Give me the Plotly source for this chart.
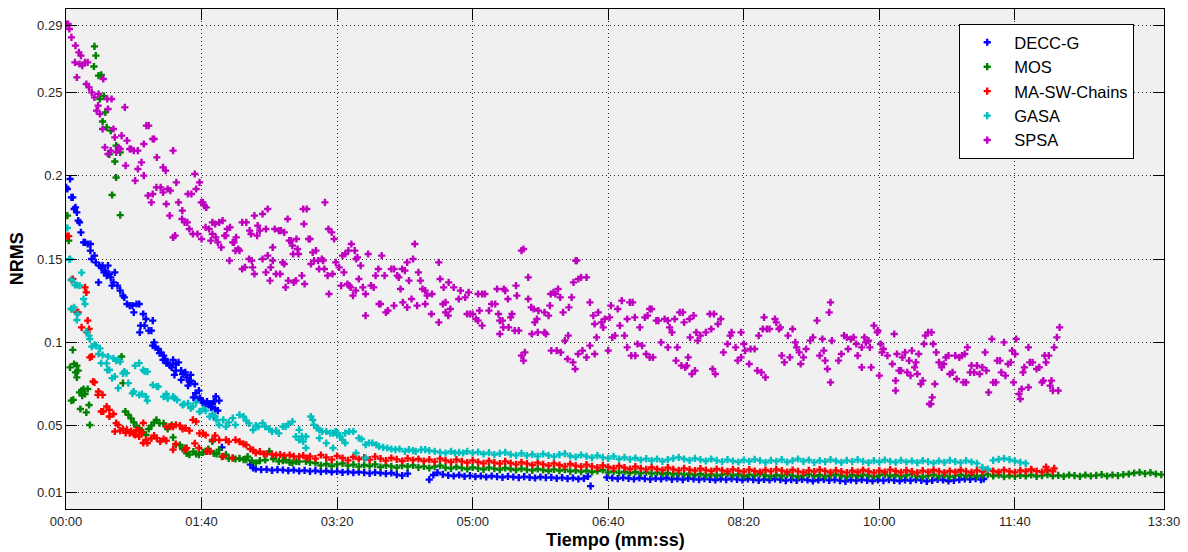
import plotly.graph_objects as go

# ---------------------------------------------------------------------------
# NRMS vs. elapsed time (seconds) for five optimisers.
# Irregular early samples are (t, value) pairs; the long converged tails are
# logged every SAMPLE_STEP seconds starting at the given time.
# ---------------------------------------------------------------------------
SAMPLE_STEP = 4

series_names = ["DECC-G", "MOS", "MA-SW-Chains", "GASA", "SPSA"]
series_colors = ["#0000ff", "#008000", "#ff0000", "#00bfbf", "#bf00bf"]

x_tick_seconds = [0, 100, 200, 300, 400, 500, 600, 700, 810]
x_tick_labels = ["00:00", "01:40", "03:20", "05:00", "06:40", "08:20", "10:00", "11:40", "13:30"]
y_tick_values = [0.01, 0.05, 0.1, 0.15, 0.2, 0.25, 0.29]
y_tick_labels = ["0.01", "0.05", "0.1", "0.15", "0.2", "0.25", "0.29"]

# ---- DECC-G ---------------------------------------------------------------
decc_points = [
    (0, 0.193), (1, 0.192), (3, 0.198), (4, 0.187), (5, 0.187), (6, 0.180), (7, 0.181),
    (8, 0.178), (9, 0.173), (10, 0.172), (11, 0.166), (13, 0.160), (14, 0.160), (16, 0.159),
    (18, 0.159), (18, 0.155), (19, 0.150), (21, 0.152), (22, 0.148), (24, 0.136), (24.5, 0.146),
    (26, 0.145), (27, 0.146), (28, 0.142), (29, 0.143), (30, 0.140), (31, 0.146), (32, 0.141),
    (33, 0.139), (34, 0.134), (35, 0.136), (36, 0.142), (38, 0.134), (40, 0.131), (42, 0.128),
    (43, 0.127), (45, 0.123), (47, 0.122), (49, 0.122), (50, 0.118), (52, 0.123), (54, 0.123),
    (54.4, 0.106), (55, 0.110), (57, 0.117), (58, 0.110), (59, 0.114), (61, 0.107), (63, 0.107),
    (64, 0.113), (64, 0.098), (65, 0.100), (66, 0.097), (68, 0.096), (69, 0.0935), (70, 0.094),
    (71.6, 0.0895), (72, 0.092), (73, 0.090), (74, 0.0875), (75, 0.088), (77, 0.086),
    (78, 0.085), (79, 0.0895), (80, 0.0805), (81, 0.087), (81, 0.083), (83, 0.088), (85, 0.083),
    (85, 0.0775), (86, 0.081), (88, 0.082), (89, 0.079), (90, 0.074), (91, 0.0765), (92, 0.0805),
    (92, 0.077), (94, 0.067), (95, 0.075), (95.6, 0.0695), (97, 0.066), (98, 0.071), (99, 0.0665),
    (100, 0.065), (101, 0.064), (103, 0.063), (104, 0.0645), (105, 0.063), (106, 0.063),
    (107, 0.061), (108, 0.063), (109, 0.0645), (109, 0.0555), (110, 0.060), (110.5, 0.0675),
    (112, 0.059), (113, 0.065), (115, 0.037),
    (136, 0.0266), (138, 0.0246), (140, 0.0240),
    (268, 0.0176), (271, 0.0204), (274, 0.0218),
    (385, 0.0196), (387, 0.0137), (677, 0.0180),
]
decc_tail_a_start = 144
decc_tail_a = [
    0.0236, 0.0238, 0.0232, 0.0236, 0.0234, 0.0230, 0.0234, 0.0228, 0.0232, 0.0226,
    0.0230, 0.0224, 0.0228, 0.0222, 0.0226, 0.0220, 0.0224, 0.0218, 0.0222, 0.0218,
    0.0214, 0.0220, 0.0216, 0.0212, 0.0216, 0.0206, 0.0200, 0.0212,
]
decc_tail_b_start = 278
decc_tail_b = [
    0.0208, 0.0202, 0.0198, 0.0204, 0.0196, 0.0200, 0.0194, 0.0198, 0.0192, 0.0198,
    0.0194, 0.0190, 0.0196, 0.0192, 0.0188, 0.0194, 0.0190, 0.0186, 0.0192, 0.0188,
    0.0190, 0.0184, 0.0188, 0.0182, 0.0186, 0.0180, 0.0184,
]
decc_tail_c_start = 399
decc_tail_c = [
    0.0190, 0.0186, 0.0182, 0.0188, 0.0184, 0.0180, 0.0186, 0.0182, 0.0178, 0.0184,
    0.0180, 0.0186, 0.0178, 0.0182, 0.0176, 0.0184, 0.0180, 0.0176, 0.0182, 0.0178,
    0.0174, 0.0180, 0.0176, 0.0182, 0.0178, 0.0174, 0.0180, 0.0176, 0.0172, 0.0178,
    0.0174, 0.0180, 0.0176, 0.0170, 0.0176, 0.0172, 0.0178, 0.0174, 0.0168, 0.0174,
    0.0178, 0.0172, 0.0176, 0.0170, 0.0166, 0.0174, 0.0170, 0.0176, 0.0172, 0.0168,
    0.0174, 0.0170, 0.0176, 0.0172, 0.0168, 0.0174, 0.0170, 0.0176, 0.0172, 0.0166,
    0.0172, 0.0178, 0.0174, 0.0168, 0.0172, 0.0176, 0.0180, 0.0178, 0.0182, 0.0176,
]

# ---- MOS ------------------------------------------------------------------
mos_points = [
    (1, 0.176), (2, 0.161), (3, 0.085), (4, 0.120), (4, 0.065), (5, 0.0955), (5.4, 0.0655),
    (6, 0.087), (7, 0.082), (8, 0.086), (8, 0.079), (9, 0.083), (10, 0.070), (10.6, 0.060),
    (11.5, 0.071), (12, 0.068), (13, 0.072), (14, 0.069), (15, 0.058), (16, 0.072),
    (17, 0.0624), (17.6, 0.0504), (20.6, 0.2655), (21, 0.2776), (22, 0.272), (24, 0.260),
    (25, 0.246), (26, 0.2605), (27, 0.2325), (28, 0.2477), (29, 0.238), (30, 0.229),
    (32, 0.2128), (33, 0.227), (34, 0.1884), (36, 0.2085), (37, 0.218), (37, 0.1989),
    (40, 0.214), (40, 0.1763), (41, 0.0915), (42, 0.0755), (43.8, 0.0585), (46, 0.0565),
    (48, 0.0544), (50, 0.0520), (52, 0.0494), (54, 0.0485), (55, 0.047), (57, 0.046),
    (59, 0.0444), (61, 0.048), (63, 0.050), (65, 0.052), (66.7, 0.0535), (69, 0.0515),
    (72, 0.0514), (75, 0.048), (78, 0.0504), (79, 0.043), (81, 0.0386), (84, 0.0384),
    (86, 0.036), (88, 0.0366), (89, 0.0334), (91, 0.0326), (94, 0.0344), (96, 0.033),
    (98, 0.0326), (101, 0.034), (103, 0.0346), (105, 0.036), (108, 0.0406), (109, 0.0334),
    (111, 0.033), (113, 0.0356), (115, 0.0314), (118, 0.0326), (120, 0.0304), (123, 0.0306),
    (125, 0.0300), (128, 0.0304), (131, 0.0296), (133, 0.0296), (134, 0.0314), (137, 0.0290),
    (140, 0.0276), (143, 0.0290), (147, 0.0294), (150, 0.0346), (153, 0.0300), (157, 0.0286),
    (160, 0.0290), (162, 0.0294), (165, 0.0280), (167, 0.0276), (170, 0.0286), (172, 0.0284),
    (177, 0.0286), (180, 0.0280),
]
mos_tail_start = 184
mos_tail = [
    0.0276, 0.0262, 0.0270, 0.0258, 0.0268, 0.0274, 0.0260, 0.0266, 0.0254, 0.0264,
    0.0258, 0.0268, 0.0252, 0.0262, 0.0256, 0.0248, 0.0260, 0.0254, 0.0262, 0.0250,
    0.0256, 0.0246, 0.0254, 0.0260, 0.0248, 0.0244, 0.0252, 0.0246, 0.0240, 0.0250,
    0.0244, 0.0238, 0.0248, 0.0242, 0.0236, 0.0246, 0.0240, 0.0234, 0.0242, 0.0236,
    0.0232, 0.0240, 0.0234, 0.0228, 0.0238, 0.0230, 0.0236, 0.0226, 0.0232, 0.0224,
    0.0230, 0.0222, 0.0228, 0.0234, 0.0220, 0.0226, 0.0218, 0.0224, 0.0216, 0.0222,
    0.0214, 0.0220, 0.0212, 0.0218, 0.0210, 0.0216, 0.0208, 0.0214, 0.0206, 0.0212,
    0.0204, 0.0210, 0.0202, 0.0208, 0.0200, 0.0206, 0.0212, 0.0202, 0.0208, 0.0198,
    0.0206, 0.0200, 0.0210, 0.0202, 0.0196, 0.0204, 0.0198, 0.0208, 0.0200, 0.0194,
    0.0202, 0.0208, 0.0198, 0.0204, 0.0196, 0.0202, 0.0208, 0.0200, 0.0194, 0.0204,
    0.0198, 0.0206, 0.0200, 0.0194, 0.0202, 0.0208, 0.0198, 0.0204, 0.0196, 0.0202,
    0.0208, 0.0198, 0.0192, 0.0200, 0.0206, 0.0196, 0.0202, 0.0194, 0.0200, 0.0206,
    0.0198, 0.0204, 0.0196, 0.0202, 0.0208, 0.0198, 0.0204, 0.0194, 0.0200, 0.0196,
    0.0202, 0.0198, 0.0204, 0.0196, 0.0200, 0.0206, 0.0198, 0.0202, 0.0196, 0.0204,
    0.0200, 0.0196, 0.0204, 0.0198, 0.0202, 0.0206, 0.0198, 0.0204, 0.0200, 0.0206,
    0.0210, 0.0216, 0.0220, 0.0212, 0.0218, 0.0210, 0.0206,
]

# ---- MA-SW-Chains -----------------------------------------------------------
masw_points = [
    (1, 0.1637), (2, 0.1637), (4, 0.1374), (5, 0.138), (8, 0.118), (9, 0.118), (11.5, 0.109),
    (14, 0.133), (15, 0.130), (15.6, 0.106), (16, 0.113), (17, 0.108), (17.6, 0.091),
    (19, 0.0915), (20, 0.0765), (21, 0.076), (23.6, 0.0685), (24, 0.0705), (26, 0.0585),
    (27, 0.0685), (27.5, 0.0585), (30, 0.0615), (32, 0.0555), (32, 0.0595), (35, 0.057),
    (36, 0.0465), (37, 0.0515), (38.5, 0.0505), (40, 0.047), (42, 0.048), (44, 0.0457),
    (45, 0.0475), (47, 0.0455), (48, 0.0467), (50, 0.045), (51, 0.0445), (52, 0.0475),
    (54, 0.047), (54, 0.0435), (56, 0.046), (57, 0.0516), (57, 0.0396), (59, 0.0415),
    (60, 0.0396), (63, 0.0424), (65, 0.044), (67, 0.0425), (69.5, 0.0405), (72, 0.042),
    (74, 0.0494), (74, 0.041), (76.5, 0.0495), (79, 0.0494), (79, 0.0356), (81, 0.0505),
    (81, 0.039), (84, 0.050), (86, 0.048), (88, 0.0485), (88, 0.0356), (89, 0.0365),
    (91, 0.047), (93.6, 0.0535), (95, 0.0394), (96, 0.0525), (98, 0.0366), (98.5, 0.0454),
    (101, 0.0454), (103, 0.0444), (104, 0.0346), (106, 0.0346), (108, 0.0414), (110, 0.044),
    (113, 0.0414), (116, 0.0316), (118, 0.0415), (120, 0.0404), (123, 0.0306), (125, 0.0415),
    (128, 0.0404), (131, 0.0390), (133, 0.0385), (136, 0.036), (138, 0.0354), (140, 0.0336),
    (143, 0.0344), (146, 0.0330), (148, 0.0330), (152, 0.0328), (155, 0.0324), (158, 0.0326),
    (161, 0.0320), (165, 0.0324), (168, 0.0316), (172, 0.0314), (175, 0.0320), (178, 0.0306),
    (712, 0.0236), (723, 0.0252), (729, 0.0244),
]
masw_tail_start = 180
masw_tail = [
    0.0316, 0.0302, 0.0324, 0.0310, 0.0296, 0.0318, 0.0306, 0.0292, 0.0312, 0.0300,
    0.0308, 0.0296, 0.0314, 0.0302, 0.0290, 0.0306, 0.0298, 0.0288, 0.0304, 0.0294,
    0.0300, 0.0288, 0.0296, 0.0284, 0.0302, 0.0292, 0.0282, 0.0296, 0.0286, 0.0278,
    0.0292, 0.0282, 0.0274, 0.0288, 0.0278, 0.0272, 0.0286, 0.0276, 0.0268, 0.0280,
    0.0272, 0.0264, 0.0278, 0.0268, 0.0260, 0.0274, 0.0264, 0.0256, 0.0270, 0.0260,
    0.0254, 0.0266, 0.0256, 0.0248, 0.0262, 0.0252, 0.0244, 0.0258, 0.0248, 0.0240,
    0.0254, 0.0244, 0.0238, 0.0250, 0.0240, 0.0234, 0.0248, 0.0238, 0.0232, 0.0244,
    0.0236, 0.0230, 0.0242, 0.0234, 0.0228, 0.0240, 0.0232, 0.0226, 0.0238, 0.0230,
    0.0224, 0.0236, 0.0228, 0.0222, 0.0234, 0.0226, 0.0238, 0.0230, 0.0222, 0.0234,
    0.0226, 0.0220, 0.0232, 0.0224, 0.0236, 0.0228, 0.0220, 0.0232, 0.0224, 0.0218,
    0.0230, 0.0222, 0.0234, 0.0226, 0.0218, 0.0230, 0.0222, 0.0236, 0.0228, 0.0220,
    0.0232, 0.0224, 0.0218, 0.0230, 0.0222, 0.0234, 0.0226, 0.0218, 0.0228, 0.0222,
    0.0234, 0.0226, 0.0220, 0.0232, 0.0224, 0.0236, 0.0228, 0.0222, 0.0234, 0.0226,
    0.0220, 0.0232, 0.0226, 0.0238, 0.0228, 0.0222, 0.0234, 0.0226,
]

# ---- GASA -------------------------------------------------------------------
gasa_points = [
    (1, 0.1687), (2.5, 0.1497), (3, 0.150), (4, 0.1374), (4, 0.120), (6, 0.121), (6.6, 0.1344),
    (8, 0.1344), (8, 0.1134), (8.5, 0.117), (10, 0.134), (11.5, 0.1418), (13, 0.126),
    (14, 0.123), (15, 0.1064), (17, 0.104), (17.5, 0.102), (19, 0.0974), (21, 0.0985),
    (22, 0.098), (24, 0.093), (25, 0.0964), (26, 0.0875), (27, 0.0924), (30, 0.0874),
    (30.5, 0.0835), (31, 0.0915), (32, 0.0834), (34, 0.0785), (35, 0.0904), (36, 0.0794),
    (37, 0.089), (38, 0.0894), (38.5, 0.0725), (40, 0.0884), (42, 0.0814), (43, 0.0824),
    (44.6, 0.0815), (46, 0.0755), (49, 0.0694), (50, 0.0705), (51, 0.086), (54, 0.0875),
    (54, 0.0684), (56, 0.069), (57, 0.0834), (58, 0.0825), (59, 0.0674), (60, 0.0824),
    (60, 0.065), (64, 0.0744), (67, 0.0735), (68, 0.0734), (72, 0.0674), (74, 0.069),
    (75, 0.0664), (79, 0.0674), (80, 0.0665), (82, 0.0654), (86, 0.0624), (87, 0.063),
    (90, 0.0634), (92, 0.0605), (93.6, 0.0614), (96, 0.0640), (98.5, 0.0584), (101, 0.0600),
    (103, 0.059), (106, 0.0554), (108, 0.0570), (110, 0.0555), (111, 0.0534), (113, 0.0504),
    (116, 0.0535), (118, 0.0494), (120, 0.0520), (123, 0.0545), (125, 0.0505), (128, 0.0565),
    (131, 0.0554), (133, 0.0530), (135, 0.0514), (138, 0.0474), (140, 0.0500), (142, 0.0494),
    (145, 0.0515), (147, 0.0494), (150, 0.0480), (152, 0.0464), (155, 0.0470), (157, 0.0454),
    (160, 0.0495), (162, 0.0494), (164, 0.0510), (167, 0.0524), (169.6, 0.0434), (172, 0.0475),
    (172, 0.0415), (174, 0.0436), (175, 0.0405), (177, 0.0435), (177, 0.0366), (180.6, 0.0555),
    (182, 0.0535), (183, 0.0505), (185, 0.0485), (187, 0.0475), (187, 0.0425), (189, 0.0465),
    (192, 0.0465), (192, 0.0395), (195, 0.0455), (197, 0.0455), (197, 0.0366), (199, 0.0465),
    (200, 0.0445), (202, 0.0440), (204, 0.0415), (206, 0.0396), (206, 0.0455), (209, 0.0465),
    (212, 0.0465), (214, 0.0336), (216, 0.0425), (218, 0.0420), (221, 0.0386), (221, 0.0306),
    (223.5, 0.0396), (226, 0.0396), (229, 0.0385), (231, 0.0376), (234, 0.0370), (237, 0.0366),
    (240, 0.0360), (243, 0.0356), (246, 0.0360), (250, 0.0346), (253, 0.0356), (256, 0.0350),
    (258, 0.0346), (262, 0.0356), (265, 0.0356), (268, 0.0350), (272, 0.0346), (276, 0.0340),
    (280, 0.0336), (284, 0.0346), (287, 0.0336), (290, 0.0340), (293, 0.0336),
]
gasa_tail_start = 296
gasa_tail = [
    0.0346, 0.0336, 0.0342, 0.0330, 0.0338, 0.0326, 0.0334, 0.0340, 0.0328, 0.0322,
    0.0334, 0.0320, 0.0328, 0.0316, 0.0330, 0.0322, 0.0314, 0.0326, 0.0332, 0.0318,
    0.0312, 0.0324, 0.0316, 0.0308, 0.0320, 0.0310, 0.0304, 0.0316, 0.0300, 0.0310,
    0.0298, 0.0306, 0.0294, 0.0302, 0.0290, 0.0300, 0.0286, 0.0296, 0.0304, 0.0310,
    0.0300, 0.0292, 0.0304, 0.0296, 0.0288, 0.0300, 0.0292, 0.0284, 0.0296, 0.0288,
    0.0282, 0.0294, 0.0286, 0.0298, 0.0290, 0.0280, 0.0292, 0.0286, 0.0296, 0.0282,
    0.0290, 0.0300, 0.0286, 0.0294, 0.0280, 0.0290, 0.0284, 0.0296, 0.0288, 0.0280,
    0.0292, 0.0284, 0.0296, 0.0286, 0.0278, 0.0290, 0.0282, 0.0294, 0.0286, 0.0280,
    0.0292, 0.0282, 0.0288, 0.0278, 0.0290, 0.0284, 0.0276, 0.0288, 0.0280, 0.0292,
    0.0284, 0.0278, 0.0290, 0.0282, 0.0274, 0.0250, 0.0240, 0.0292, 0.0298, 0.0304,
    0.0296, 0.0288, 0.0280, 0.0274,
]

# ---- SPSA -------------------------------------------------------------------
spsa_points = [
    (0, 0.291), (1.5, 0.291), (2.5, 0.288), (4, 0.283), (6.6, 0.268), (7, 0.278), (8, 0.259),
    (9.5, 0.274), (10, 0.267), (11, 0.272), (12, 0.266), (14, 0.268), (15, 0.255), (16, 0.268),
    (17, 0.253), (19, 0.250), (21, 0.247), (22.6, 0.239), (23.7, 0.242), (24, 0.249),
    (25, 0.237), (27, 0.228), (27.5, 0.258), (28.7, 0.217), (30.4, 0.246), (31, 0.240),
    (31, 0.213), (33, 0.215), (33.6, 0.246), (35, 0.228), (36, 0.223), (37, 0.214),
    (38.5, 0.217), (40, 0.216), (41, 0.224), (43.4, 0.241), (44, 0.206), (45, 0.221),
    (47, 0.216), (48, 0.216), (50, 0.215), (51, 0.197), (53, 0.215), (53, 0.204),
    (55.7, 0.208), (57.4, 0.219), (57.4, 0.200), (59.3, 0.230), (60.5, 0.188), (61, 0.230),
    (63, 0.184), (64, 0.222), (64, 0.189), (65, 0.222), (66.7, 0.193), (67, 0.211),
    (69.8, 0.193), (71.6, 0.205), (71.6, 0.190), (73.5, 0.203), (74, 0.183), (75, 0.192),
    (76.5, 0.176), (77, 0.191), (79, 0.215), (79, 0.163), (80.5, 0.164), (81.4, 0.196),
    (83, 0.184), (85.6, 0.174), (85.8, 0.179), (87.5, 0.172), (89.5, 0.172), (90, 0.189),
    (91, 0.168), (92.5, 0.189), (93.6, 0.165), (95, 0.201), (96, 0.192), (97, 0.165),
    (98.5, 0.196), (99.8, 0.184), (100, 0.162),
    (101, 0.184), (102, 0.182), (103, 0.169), (103.5, 0.181), (105.5, 0.168), (106.8, 0.161),
    (108, 0.172), (108, 0.165), (110, 0.171), (110.5, 0.163), (112, 0.160), (113, 0.172),
    (114.5, 0.157), (115.5, 0.173), (117, 0.164), (118, 0.164), (119, 0.168), (120.6, 0.149),
    (121, 0.169), (123, 0.160), (124, 0.160), (125.5, 0.163), (125, 0.155), (127, 0.156),
    (128, 0.155), (130, 0.172), (130, 0.144), (132, 0.145), (133, 0.172), (135, 0.150),
    (135.5, 0.167), (136.5, 0.165), (137, 0.149), (137.7, 0.145), (139, 0.176), (139, 0.141),
    (141, 0.164), (141.4, 0.170), (143, 0.167), (145, 0.177), (145, 0.150), (147.5, 0.168),
    (147.5, 0.142), (148.8, 0.180), (148.8, 0.152), (150.5, 0.137), (151, 0.145),
    (152.5, 0.157), (152.5, 0.149), (154, 0.168), (155, 0.141), (157, 0.167), (158.6, 0.167),
    (158, 0.141), (159.8, 0.148), (161, 0.166), (161, 0.147), (162, 0.133), (163.5, 0.174),
    (164, 0.137), (164.7, 0.161), (166, 0.161), (167, 0.158), (167.6, 0.153), (168, 0.136),
    (169.6, 0.137), (170, 0.162), (170.8, 0.156), (171.5, 0.153), (174, 0.140), (175, 0.180),
    (175.5, 0.171), (176, 0.135), (177.6, 0.180), (179, 0.162), (180, 0.162), (180.7, 0.147),
    (182, 0.154), (183, 0.149), (184.4, 0.155), (186, 0.149), (186.7, 0.144), (188.7, 0.150),
    (189.7, 0.149), (190.6, 0.144), (191, 0.184), (193, 0.140), (193.6, 0.168), (194, 0.129),
    (196, 0.166), (196.6, 0.141), (197.8, 0.162), (199, 0.148),
    (201.5, 0.145), (203, 0.134), (204, 0.152), (205, 0.142), (206, 0.153), (207.6, 0.135),
    (208.3, 0.155), (209, 0.134), (210, 0.133), (210.5, 0.159), (211.7, 0.128), (213, 0.155),
    (213.7, 0.131), (214, 0.150), (215, 0.151), (216, 0.138), (217.4, 0.146), (219, 0.133),
    (221, 0.116), (221, 0.129), (222.9, 0.153), (225, 0.134), (227, 0.133), (228.4, 0.140),
    (230.4, 0.144), (231, 0.123), (232, 0.123), (232.9, 0.152), (235, 0.140), (236, 0.118),
    (237.5, 0.119), (240, 0.144), (242, 0.122), (242, 0.144), (244.4, 0.140), (245.5, 0.139),
    (246.8, 0.132), (248, 0.144), (248.5, 0.124), (250, 0.143), (251.7, 0.121), (251.7, 0.148),
    (253, 0.137), (254.9, 0.126), (256, 0.150), (257.3, 0.159), (259, 0.122), (260, 0.142),
    (261.5, 0.137), (263, 0.132), (265, 0.123), (265, 0.131), (266.4, 0.128), (269.6, 0.117),
    (270, 0.129), (275, 0.148), (275, 0.112), (276, 0.138), (278, 0.123), (278.6, 0.133),
    (280, 0.118), (280, 0.124), (282, 0.116), (282.3, 0.136), (283.5, 0.120), (286, 0.133),
    (289.7, 0.126), (291, 0.131), (294.5, 0.127), (295.9, 0.117), (297, 0.130), (298, 0.117),
    (300, 0.117), (302.4, 0.114), (304, 0.129), (304, 0.113), (305, 0.119), (307, 0.129),
    (307, 0.110), (309, 0.129), (312, 0.119), (314, 0.123), (316.6, 0.123), (318, 0.132),
    (319, 0.117), (320, 0.113), (320, 0.105), (322, 0.113), (322.6, 0.109), (323, 0.132),
    (324, 0.131), (326, 0.126), (326.5, 0.109), (328, 0.115), (329, 0.117), (331, 0.107),
    (332, 0.134), (332.6, 0.128), (334, 0.107), (336, 0.155), (336, 0.092), (337.5, 0.156),
    (337.5, 0.089), (338.5, 0.094), (341, 0.139), (341, 0.126), (343.2, 0.121), (343.7, 0.105),
    (345, 0.120), (345.8, 0.112), (347.4, 0.114), (348, 0.106), (348.5, 0.119), (353, 0.118),
    (353, 0.106), (354, 0.105), (356, 0.116), (357, 0.122), (357.6, 0.129), (358, 0.095),
    (359.6, 0.130), (361, 0.129), (362, 0.095), (363, 0.132), (364.6, 0.127), (365, 0.094),
    (366.7, 0.118), (368, 0.101), (370, 0.090), (370.5, 0.104), (371, 0.121), (373, 0.127),
    (374, 0.088), (374.4, 0.136), (375.6, 0.084), (376, 0.149), (376.8, 0.149), (377.8, 0.093),
    (378, 0.138), (380, 0.139), (381, 0.095), (384, 0.139), (384, 0.091), (386.5, 0.124),
    (386.5, 0.098), (389, 0.116), (390, 0.111), (390, 0.093), (391.4, 0.103), (392.6, 0.118),
    (395, 0.112), (396.3, 0.109), (397.5, 0.114),
    (400, 0.095), (401, 0.115), (402, 0.122), (403, 0.103), (405, 0.104), (407, 0.120),
    (408.6, 0.110), (410, 0.125), (412, 0.104), (414, 0.114), (414, 0.097), (415.9, 0.124),
    (417, 0.092), (418, 0.124), (419.6, 0.115), (420, 0.092), (421.6, 0.099), (423.3, 0.109),
    (425, 0.098), (427, 0.115), (428, 0.093), (429, 0.116), (430.6, 0.120), (430.6, 0.091),
    (432, 0.120), (433, 0.091), (435.5, 0.113), (437, 0.113), (439, 0.100), (441.6, 0.114),
    (444, 0.097), (444, 0.113), (445.3, 0.109), (447, 0.106), (449, 0.114), (450, 0.089),
    (451, 0.097), (452.7, 0.118), (454, 0.086), (455, 0.118), (456, 0.112), (456.8, 0.085),
    (458, 0.086), (459, 0.091), (460, 0.114), (460.4, 0.103), (461.7, 0.081), (463, 0.116),
    (464, 0.083), (465, 0.106), (466, 0.101), (468, 0.104), (472, 0.106), (475, 0.117),
    (476, 0.108), (477, 0.084), (478, 0.117), (479, 0.081), (481, 0.111), (483, 0.114),
    (485, 0.094), (488, 0.099), (490, 0.104), (491, 0.106), (494, 0.097), (495.5, 0.089),
    (498, 0.106), (498, 0.091), (500, 0.099),
    (501, 0.095), (504, 0.087), (505, 0.096), (508, 0.096), (510, 0.083), (511, 0.104),
    (513, 0.082), (514, 0.108), (515, 0.115), (516, 0.079), (517, 0.108), (519, 0.108),
    (523, 0.114), (524, 0.112), (526, 0.108), (527, 0.109), (528, 0.092), (530, 0.088),
    (532.6, 0.104), (534, 0.091), (536, 0.108), (538, 0.100), (539, 0.097), (540.9, 0.094),
    (542, 0.087), (544, 0.091), (546, 0.096), (549, 0.101), (551, 0.103), (554, 0.113),
    (556, 0.092), (558, 0.102), (559, 0.095), (560, 0.089), (561.7, 0.084), (563, 0.118),
    (564, 0.124), (564, 0.076), (565, 0.101), (569.9, 0.089), (572, 0.093), (574, 0.104),
    (576, 0.103), (577, 0.096), (579, 0.102), (581, 0.103), (583, 0.099), (584, 0.092),
    (587, 0.097), (587, 0.085), (589, 0.103), (590, 0.100), (592, 0.101), (593, 0.097),
    (594, 0.085), (596, 0.110), (598.5, 0.106), (599, 0.107),
    (600, 0.080), (601, 0.099), (602, 0.094), (603, 0.096), (606, 0.092), (609.6, 0.087),
    (611, 0.105), (612, 0.071), (612, 0.077), (613, 0.093), (614.5, 0.083), (616, 0.083),
    (617, 0.091), (619, 0.094), (620.6, 0.082), (622, 0.089), (623, 0.080), (624, 0.095),
    (626, 0.085), (627, 0.088), (628, 0.081), (629, 0.093), (630.6, 0.075), (632, 0.077),
    (633, 0.099), (634, 0.104), (636, 0.106), (637, 0.063), (638, 0.063), (638.5, 0.106),
    (639, 0.067), (639.7, 0.099), (641, 0.075), (642, 0.094), (644, 0.088), (646, 0.085),
    (647.5, 0.087), (649, 0.091), (651, 0.092), (652, 0.081), (654, 0.082), (656, 0.092),
    (657, 0.078), (659, 0.091), (661, 0.092), (662, 0.076), (663, 0.093), (664, 0.076),
    (665, 0.097), (667, 0.082), (668, 0.086), (670, 0.082), (672, 0.086), (674, 0.081),
    (676, 0.085), (678, 0.094), (679, 0.083), (680.6, 0.070), (683, 0.102), (684, 0.076),
    (686, 0.076), (687, 0.089), (689, 0.089), (690, 0.082), (692, 0.100), (693, 0.080),
    (695, 0.087), (697, 0.088), (698, 0.095), (699, 0.076), (700.2, 0.093), (701, 0.102),
    (703, 0.069), (704, 0.066), (705, 0.072), (706, 0.082), (707, 0.085), (710, 0.073),
    (710, 0.097), (711, 0.088), (713, 0.088), (716, 0.084), (718, 0.085), (720, 0.076),
    (721, 0.077), (722, 0.092), (723, 0.088), (725, 0.092), (726, 0.074), (727, 0.077),
    (728, 0.071), (729, 0.097), (731, 0.103), (732, 0.071), (733, 0.109),
]


def tail_times(start, values):
    """Sample instants of a regularly logged tail."""
    return [start + SAMPLE_STEP * i for i in range(len(values))]


def assemble(points, tails):
    xs = [p[0] for p in points]
    ys = [p[1] for p in points]
    for start, values in tails:
        xs += tail_times(start, values)
        ys += list(values)
    return xs, ys


series_data = [
    assemble(decc_points, [(decc_tail_a_start, decc_tail_a),
                           (decc_tail_b_start, decc_tail_b),
                           (decc_tail_c_start, decc_tail_c)]),
    assemble(mos_points, [(mos_tail_start, mos_tail)]),
    assemble(masw_points, [(masw_tail_start, masw_tail)]),
    assemble(gasa_points, [(gasa_tail_start, gasa_tail)]),
    assemble(spsa_points, []),
]

FONT = "Liberation Sans, Arial, Helvetica, sans-serif"

fig = go.Figure()
for name, color, (xs, ys) in zip(series_names, series_colors, series_data):
    fig.add_trace(go.Scatter(
        x=xs, y=ys, mode="markers", name=name,
        marker=dict(symbol="cross", size=6, color=color, line=dict(width=0)),
    ))

axis_common = dict(
    showline=True, linecolor="black", linewidth=1, mirror="allticks",
    ticks="inside", ticklen=11, tickwidth=1, tickcolor="black",
    showgrid=True, gridcolor="#303030", gridwidth=1, griddash="1px,3px",
    zeroline=False, tickfont=dict(family=FONT, size=13, color="#262626"),
)

fig.update_layout(
    width=1188, height=552,
    margin=dict(l=66, r=20, t=8, b=43),
    paper_bgcolor="white", plot_bgcolor="#f0f0f0",
    font=dict(family=FONT),
    xaxis=dict(range=[0, 810], tickmode="array", tickvals=x_tick_seconds,
               ticktext=x_tick_labels, **axis_common),
    yaxis=dict(range=[0, 0.3], tickmode="array", tickvals=y_tick_values,
               ticktext=y_tick_labels, **axis_common),
    legend=dict(
        x=0.8135, y=0.97, xanchor="left", yanchor="top",
        bgcolor="white", bordercolor="black", borderwidth=1,
        font=dict(family=FONT, size=16.5, color="black"),
        itemwidth=44, traceorder="normal",
        itemsizing="trace",
    ),
    annotations=[
        dict(text="Tiempo (mm:ss)", xref="paper", yref="paper", x=0.5, y=-0.062,
             xanchor="center", yanchor="middle", showarrow=False,
             font=dict(family=FONT, size=18, color="black", weight="bold")),
        dict(text="NRMS", xref="paper", yref="paper", x=-0.0445, y=0.5,
             xanchor="center", yanchor="middle", showarrow=False, textangle=-90,
             font=dict(family=FONT, size=18, color="black", weight="bold")),
    ],
)

fig.write_html("out.html")
